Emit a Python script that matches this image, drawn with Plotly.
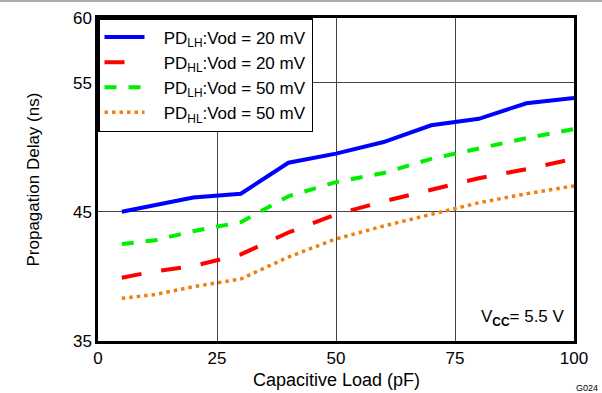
import plotly.graph_objects as go

load_pf = [5, 12, 20, 30, 40, 50, 60, 70, 80, 90, 100]
pdlh_20 = [45.0, 45.5, 46.1, 46.4, 48.8, 49.5, 50.4, 51.7, 52.2, 53.4, 53.8]
pdhl_20 = [39.9, 40.4, 40.8, 41.7, 43.4, 44.8, 45.8, 46.7, 47.6, 48.3, 49.1]
pdlh_50 = [42.5, 42.8, 43.5, 44.2, 46.2, 47.3, 48.0, 49.1, 49.9, 50.7, 51.4]
pdhl_50 = [38.3, 38.6, 39.2, 39.8, 41.5, 42.9, 43.9, 44.8, 45.7, 46.4, 47.0]

names = ["PD<sub>LH</sub>:Vod = 20 mV", "PD<sub>HL</sub>:Vod = 20 mV",
         "PD<sub>LH</sub>:Vod = 50 mV", "PD<sub>HL</sub>:Vod = 50 mV"]
x_ticks = [0, 25, 50, 75, 100]
y_ticks = [35, 45, 55, 60]

FONT = "Liberation Sans, Arial, sans-serif"
PAD = "\u00a0\u00a0\u00a0"

fig = go.Figure()
styles = [("#0000ff", "solid", 4), ("#ff0000", "longdash", 4),
          ("#00ee00", "dash", 4), ("#f07f10", "3.5px,4px", 3.5)]
for ys, nm, (c, d, w) in zip([pdlh_20, pdhl_20, pdlh_50, pdhl_50], names, styles):
    fig.add_trace(go.Scatter(x=load_pf, y=ys, mode="lines", name=PAD + nm,
                             line=dict(color=c, dash=d, width=w)))

fig.update_layout(
    width=602, height=393,
    margin=dict(l=98, r=28, t=18, b=52, autoexpand=False),
    paper_bgcolor="white", plot_bgcolor="white",
    font=dict(family=FONT, size=17, color="black"),
    showlegend=True,
    legend=dict(x=0, y=1, xanchor="left", yanchor="top",
                bgcolor="white", bordercolor="black", borderwidth=1.5,
                font=dict(size=17), tracegroupgap=0, itemwidth=40),
    xaxis=dict(range=[0, 100], tickvals=x_ticks, ticks="", showgrid=True,
               gridcolor="#444444", gridwidth=1, showline=True, linecolor="black",
               linewidth=2.5, mirror=True, zeroline=False, automargin=False,
               tickfont=dict(size=17)),
    yaxis=dict(range=[35, 60], tickvals=y_ticks, ticks="", showgrid=True,
               gridcolor="#444444", gridwidth=1, showline=True, linecolor="black",
               linewidth=2.5, mirror=True, zeroline=False, automargin=False,
               tickfont=dict(size=17)),
)

fig.add_annotation(x=0.5, y=-39 / 323, xref="paper", yref="paper",
                   xanchor="center", yanchor="middle", showarrow=False,
                   text="Capacitive Load (pF)", font=dict(size=18))
fig.add_annotation(x=-65 / 476, y=0.5, xref="paper", yref="paper",
                   xanchor="center", yanchor="middle", showarrow=False,
                   textangle=-90,
                   text="Propagation Delay (ns)", font=dict(size=17))
fig.add_annotation(x=0.985, y=0.03, xref="paper", yref="paper",
                   xanchor="right", yanchor="bottom", showarrow=False,
                   text="V<sub><b>CC</b></sub>= 5.5 V", font=dict(size=17))
fig.add_annotation(x=1 + 26 / 476, y=-47 / 323, xref="paper", yref="paper",
                   xanchor="right", yanchor="middle", showarrow=False,
                   text="G024", font=dict(size=9))
fig.add_shape(type="line", xref="paper", yref="paper",
              x0=-0.21, x1=1.06, y0=1 + 17 / 323, y1=1 + 17 / 323,
              line=dict(color="#aaaaaa", width=2))

fig.write_html("out.html", config={"displayModeBar": False},
               post_script="document.body.style.margin='0px';")
